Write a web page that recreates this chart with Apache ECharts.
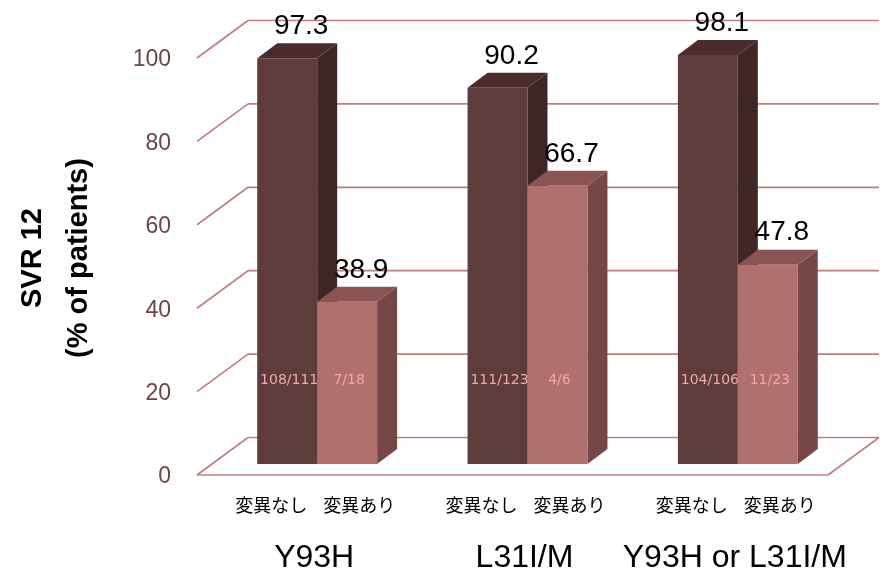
<!DOCTYPE html>
<html>
<head>
<meta charset="utf-8">
<script src="https://cdn.jsdelivr.net/npm/echarts/dist/echarts.min.js"></script>
<style>
  html, body { margin: 0; padding: 0; background: #fff; }
  #chart { width: 893px; height: 577px; }
</style>
</head>
<body>
<div id="chart"></div>
<script>
// ---- data ----
const categories = ['Y93H', 'L31I/M', 'Y93H or L31I/M'];
const seriesNames = ['変異なし', '変異あり'];
const noMutation = [97.3, 90.2, 98.1];
const withMutation = [38.9, 66.7, 47.8];
const noMutationCounts = ['108/111', '111/123', '104/106'];
const withMutationCounts = ['7/18', '4/6', '11/23'];
const yTicks = [0, 20, 40, 60, 80, 100];
const yAxisTitle = 'SVR 12\n(% of patients)';

// ---- styles / geometry ----
const BACK = [36, -26.5];     // back wall offset relative to bar front plane
const FRONT = [-15, 11];      // front floor edge offset
const DEPTH = [20, -15];      // bar depth
const GRIDLINE = '#BF7F7F';
const colors = [
  { front: '#5E3C3C', side: '#3E2626', top: '#4A2C2C' },
  { front: '#B0706D', side: '#774646', top: '#8A5454' }
];
const countColor = '#F4A6A6';
const countLevel = 20;

const chart = echarts.init(document.getElementById('chart'), null, { renderer: 'canvas' });

function wallRender(params, api) {
  const v = api.value(1);
  const y = api.coord([0, v])[1];
  const cs = params.coordSys;
  const xl = cs.x, xr = cs.x + cs.width;
  const ls = { stroke: GRIDLINE, lineWidth: 1.7 };
  const children = [
    { type: 'line', shape: { x1: xl + BACK[0], y1: y + BACK[1], x2: xr + BACK[0], y2: y + BACK[1] }, style: ls },
    { type: 'line', shape: { x1: xl + BACK[0], y1: y + BACK[1], x2: xl + FRONT[0], y2: y + FRONT[1] }, style: ls },
    { type: 'text', x: 171, y: y + FRONT[1] + 2,
      style: { text: String(v), fill: '#6B4646', font: '23px "Liberation Sans", Arial, sans-serif', align: 'right', verticalAlign: 'middle' } }
  ];
  if (v === 0) {
    children.push(
      { type: 'line', shape: { x1: xl + FRONT[0], y1: y + FRONT[1], x2: xr + FRONT[0], y2: y + FRONT[1] }, style: ls },
      { type: 'line', shape: { x1: xr + FRONT[0], y1: y + FRONT[1], x2: xr + BACK[0], y2: y + BACK[1] }, style: ls }
    );
  }
  return { type: 'group', children: children };
}

function makeBarRender(s, counts) {
  return function (params, api) {
    const i = api.value(0), v = api.value(1);
    const top = api.coord([i, v]);
    const base = api.coord([i, 0]);
    const band = api.size([1, 0])[0];
    const w = band * 0.285;
    const cx = top[0];
    const x0 = s === 0 ? cx - w : cx;
    const x1 = x0 + w;
    const c = colors[s];
    const ty = top[1], by = base[1];
    const children = [
      { type: 'polygon', shape: { points: [[x1, ty], [x1 + DEPTH[0], ty + DEPTH[1]], [x1 + DEPTH[0], by + DEPTH[1]], [x1, by]] },
        style: { fill: c.side } },
      { type: 'polygon', shape: { points: [[x0, ty], [x1, ty], [x1 + DEPTH[0], ty + DEPTH[1]], [x0 + DEPTH[0], ty + DEPTH[1]]] },
        style: { fill: c.top } },
      { type: 'rect', shape: { x: x0, y: ty, width: w, height: by - ty }, style: { fill: c.front } },
      { type: 'text', x: (x0 + x1) / 2 + DEPTH[0] / 2 + 4, y: ty + DEPTH[1] - 3,
        style: { text: String(v), fill: '#000', font: '28px "Liberation Sans", Arial, sans-serif', align: 'center', verticalAlign: 'bottom' } },
      { type: 'text', x: (x0 + x1) / 2 + 2, y: api.coord([i, countLevel])[1],
        style: { text: counts[i], fill: countColor, font: '14px "DejaVu Sans", Verdana, sans-serif', align: 'center', verticalAlign: 'middle' } },
      { type: 'text', x: cx + (s === 0 ? -46 : 42), y: by + 41,
        style: { text: seriesNames[s], fill: '#000', font: '18px "Noto Sans CJK JP", sans-serif', align: 'center', verticalAlign: 'middle' } }
    ];
    if (s === 0) {
      children.push({ type: 'text', x: cx - 3, y: by + 94,
        style: { text: categories[i], fill: '#000', font: '32px "Liberation Sans", Arial, sans-serif', align: 'center', verticalAlign: 'middle' } });
    }
    return { type: 'group', children: children };
  };
}

const option = {
  animation: false,
  backgroundColor: '#ffffff',
  grid: { left: 212, right: 50, top: 47, bottom: 113 },
  xAxis: { type: 'category', data: categories, show: false },
  yAxis: { type: 'value', min: 0, max: 100, interval: 20, show: false },
  graphic: [{
    type: 'text', x: 56, y: 258, rotation: Math.PI / 2,
    style: { text: yAxisTitle, fill: '#000', font: 'bold 29px "Liberation Sans", Arial, sans-serif', align: 'center', verticalAlign: 'middle', lineHeight: 46 }
  }],
  series: [
    { type: 'custom', name: 'walls', clip: false, z: 1, renderItem: wallRender,
      encode: { x: 0, y: 1 }, data: yTicks.map(t => [0, t]) },
    { type: 'custom', name: seriesNames[0], clip: false, z: 2, renderItem: makeBarRender(0, noMutationCounts),
      encode: { x: 0, y: 1 }, data: noMutation.map((v, i) => [i, v]) },
    { type: 'custom', name: seriesNames[1], clip: false, z: 3, renderItem: makeBarRender(1, withMutationCounts),
      encode: { x: 0, y: 1 }, data: withMutation.map((v, i) => [i, v]) }
  ]
};
chart.setOption(option);
</script>
</body>
</html>
